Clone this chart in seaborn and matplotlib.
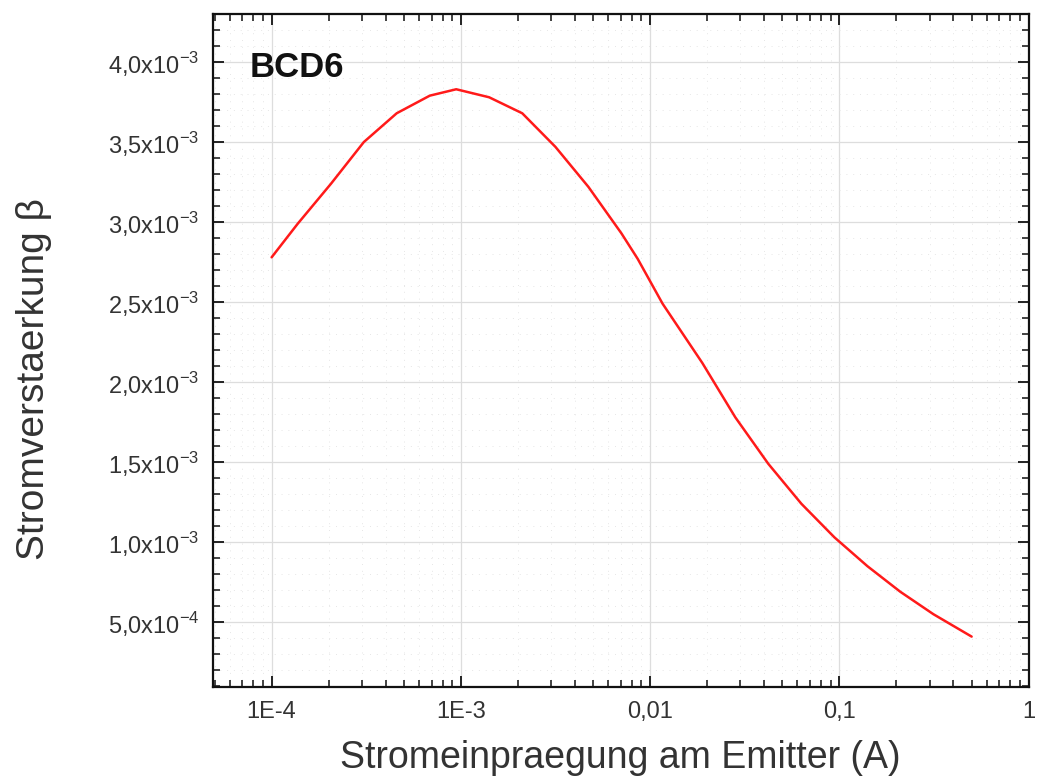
import numpy as np
import pandas as pd
import matplotlib
matplotlib.use('Agg')
import matplotlib.pyplot as plt
from matplotlib.ticker import FixedLocator, MultipleLocator, LogLocator, NullFormatter
import seaborn as sns

# Values
current = [1.0e-4, 1.374e-4, 2.06e-4, 3.07e-4, 4.58e-4, 6.85e-4, 9.45e-4, 1.41e-3,
           2.11e-3, 3.16e-3, 4.72e-3, 7.05e-3, 8.6e-3, 1.164e-2, 1.887e-2, 2.82e-2,
           4.21e-2, 6.30e-2, 9.42e-2, 1.407e-1, 2.10e-1, 3.14e-1, 5.0e-1]
beta = [2.78e-3, 2.99e-3, 3.24e-3, 3.50e-3, 3.68e-3, 3.79e-3, 3.83e-3, 3.78e-3,
        3.68e-3, 3.47e-3, 3.22e-3, 2.93e-3, 2.77e-3, 2.49e-3, 2.12e-3, 1.78e-3,
        1.49e-3, 1.24e-3, 1.03e-3, 0.85e-3, 0.69e-3, 0.55e-3, 0.41e-3]

x_ticks = [1e-4, 1e-3, 1e-2, 1e-1, 1]
x_labels = ['1E-4', '1E-3', '0,01', '0,1', '1']
y_ticks = [5e-4, 1e-3, 1.5e-3, 2e-3, 2.5e-3, 3e-3, 3.5e-3, 4e-3]
y_labels = [r'5,0x10$^{-4}$', r'1,0x10$^{-3}$', r'1,5x10$^{-3}$', r'2,0x10$^{-3}$',
            r'2,5x10$^{-3}$', r'3,0x10$^{-3}$', r'3,5x10$^{-3}$', r'4,0x10$^{-3}$']

df = pd.DataFrame({'I': current, 'beta': beta})

sns.set_style('ticks')
plt.rcParams['font.family'] = ['Liberation Sans', 'DejaVu Sans']
plt.rcParams['mathtext.fontset'] = 'custom'
plt.rcParams['mathtext.rm'] = 'Liberation Sans'

fig = plt.figure(figsize=(10.39, 7.80), dpi=100)
ax = fig.add_axes([0.205, 0.119, 0.785, 0.863])

sns.lineplot(data=df, x='I', y='beta', color='#ff1a1a', linewidth=1.8, ax=ax)

ax.set_xscale('log')
ax.set_xlim(4.9e-5, 1.0)
ax.set_ylim(9.4e-5, 4.3e-3)

ax.xaxis.set_major_locator(FixedLocator(x_ticks))
ax.set_xticklabels(x_labels)
ax.xaxis.set_minor_locator(LogLocator(base=10, subs=np.arange(2, 10)))
ax.xaxis.set_minor_formatter(NullFormatter())
ax.yaxis.set_major_locator(FixedLocator(y_ticks))
ax.set_yticklabels(y_labels)
ax.yaxis.set_minor_locator(MultipleLocator(1e-4))

ax.tick_params(which='both', direction='in', top=True, right=True, colors='#222222',
               labelcolor='#333333')
ax.tick_params(which='major', length=8, width=1.4, labelsize=17, pad=10)
ax.tick_params(which='minor', length=5, width=1.2)

for s in ax.spines.values():
    s.set_linewidth(1.6)
    s.set_color('#111111')

ax.grid(True, which='major', color='#dddddd', linewidth=0.9)
ax.grid(True, which='minor', color='#e6e6e6', linewidth=0.7, linestyle=(0, (1, 6)))
ax.set_axisbelow(True)

ax.set_xlabel('Stromeinpraegung am Emitter (A)', fontsize=27, color='#333333', labelpad=12)
ax.set_ylabel('Stromverstaerkung β', fontsize=28, color='#333333')
ax.yaxis.set_label_coords(-0.198, 0.457)

ax.text(0.045, 0.921, 'BCD6', transform=ax.transAxes, fontsize=25, fontweight='bold',
        va='center', ha='left', color='#111111')

fig.savefig('out.png', dpi=100)
